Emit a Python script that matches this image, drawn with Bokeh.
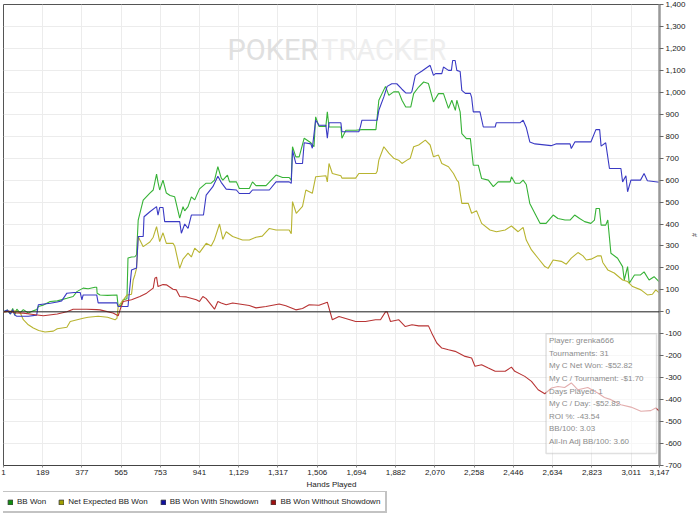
from bokeh.plotting import figure
from bokeh.layouts import column
from bokeh.models import (Range1d, FixedTicker, NumeralTickFormatter, Span, Legend,
                          LegendItem, BoxAnnotation, Label)
from bokeh.embed import file_html
from bokeh.resources import INLINE

# ---------------- data ----------------
x_ticks = [1, 189, 377, 565, 753, 941, 1129, 1317, 1506, 1694, 1882, 2070,
           2258, 2446, 2634, 2823, 3011, 3147]
y_ticks = list(range(-700, 1401, 100))

bb_won_h = [1, 20, 34, 45, 55, 65, 80, 96, 120, 144, 160, 168, 190, 225, 259, 305, 335, 353,
            383, 407, 440, 448, 450, 464, 500, 545, 551, 564, 575, 593, 598, 615, 631, 639,
            647, 671, 703, 719, 735, 742, 750, 766, 782, 800, 822, 846, 862, 870, 886, 902,
            918, 941, 973, 997, 1013, 1029, 1045, 1053, 1075, 1085, 1118, 1132, 1180, 1195,
            1212, 1260, 1308, 1339, 1371, 1381, 1387, 1403, 1419, 1443, 1475, 1490, 1498,
            1514, 1547, 1554, 1562, 1619, 1624, 1643, 1690, 1720, 1787, 1801, 1833, 1849,
            1872, 1896, 1912, 1930, 1954, 1968, 1992, 2016, 2039, 2063, 2087, 2111, 2135,
            2151, 2168, 2175, 2191, 2199, 2221, 2240, 2254, 2278, 2294, 2326, 2350, 2373,
            2431, 2437, 2455, 2478, 2493, 2508, 2525, 2549, 2574, 2603, 2637, 2660, 2694,
            2718, 2740, 2764, 2788, 2818, 2835, 2843, 2859, 2867, 2889, 2899, 2914, 2946,
            2970, 2978, 2994, 3002, 3027, 3056, 3073, 3097, 3121, 3147]
bb_won_v = [0, 8, -10, 15, -15, 12, -5, 10, -5, 5, 10, 24, 30, 47, 50, 62, 70, 92,
            108, 105, 112, 112, 85, 77, 75, 77, 24, 30, 55, 60, 245, 250, 251, 260,
            418, 509, 541, 555, 627, 590, 555, 600, 541, 530, 524, 427, 479, 460, 479, 524,
            510, 560, 586, 586, 600, 661, 610, 600, 623, 592, 592, 562, 562, 592,
            575, 575, 623, 612, 612, 600, 752, 706, 706, 791, 770, 752, 888,
            845, 845, 911, 842, 842, 791, 827, 827, 830, 830, 964, 1027, 986,
            1002, 1002, 964, 933, 933, 994, 1024, 1047, 1040, 956, 994, 994, 927,
            964, 918, 964, 911, 812, 789, 789, 668, 668, 607, 600, 570, 592,
            592, 615, 586, 586, 600, 580, 494, 449, 403, 403, 441, 425, 418,
            418, 441, 425, 411, 403, 418, 471, 471, 395, 395, 418, 267, 244,
            206, 145, 206, 130, 168, 168, 182, 145, 160, 135]

net_ev_h = [1, 60, 82, 96, 120, 144, 170, 200, 240, 259, 305, 321, 383, 407, 455, 500, 536,
            545, 551, 564, 593, 615, 623, 631, 639, 647, 655, 671, 703, 719, 735, 750, 766,
            782, 814, 822, 846, 862, 886, 902, 918, 941, 973, 997, 1013, 1037, 1053, 1069,
            1100, 1147, 1180, 1212, 1242, 1276, 1308, 1371, 1381, 1387, 1405, 1435, 1451,
            1482, 1498, 1547, 1554, 1562, 1578, 1619, 1624, 1690, 1705, 1787, 1793, 1801,
            1825, 1849, 1872, 1896, 1912, 1936, 1952, 1968, 1992, 2024, 2047, 2063, 2087,
            2103, 2135, 2159, 2175, 2183, 2199, 2230, 2246, 2270, 2294, 2334, 2365, 2407,
            2437, 2469, 2493, 2508, 2533, 2565, 2597, 2613, 2637, 2676, 2700, 2724, 2756,
            2780, 2796, 2819, 2851, 2867, 2875, 2899, 2930, 2970, 2994, 3018, 3058, 3089,
            3113, 3129, 3147]
net_ev_v = [0, 5, -5, -36, -59, -74, -85, -92, -88, -77, -70, -44, -29, -25, -20, -25, -36,
            -30, 24, 40, 76, 80, 145, 168, 198, 343, 327, 297, 318, 340, 388, 320, 360,
            312, 312, 300, 198, 240, 267, 250, 290, 270, 312, 300, 330, 400, 330, 365,
            343, 327, 327, 340, 345, 380, 373, 373, 356, 502, 449, 480, 555,
            540, 615, 620, 592, 676, 630, 620, 609, 609, 630, 630, 640, 691,
            752, 723, 700, 691, 676, 691, 700, 752, 760, 782, 760, 706, 714,
            676, 661, 630, 600, 592, 494, 494, 449, 460, 403, 373, 365, 373,
            391, 365, 385, 327, 282, 244, 206, 198, 236, 230, 217, 245, 270,
            255, 236, 240, 255, 255, 225, 191, 177, 145, 138, 115, 100, 77,
            80, 100, 85]

sd_h = [1, 20, 34, 45, 55, 65, 96, 120, 160, 168, 225, 259, 280, 305, 340, 369, 377, 383,
        448, 455, 545, 551, 598, 615, 639, 647, 671, 675, 703, 735, 742, 750, 766, 774, 846,
        854, 870, 886, 902, 960, 973, 1005, 1029, 1045, 1069, 1118, 1132, 1180, 1195, 1276,
        1308, 1371, 1381, 1387, 1403, 1435, 1443, 1475, 1482, 1498, 1514, 1547, 1554, 1562,
        1619, 1624, 1705, 1713, 1720, 1793, 1801, 1825, 1841, 1863, 1887, 1912, 1930, 1954,
        1960, 1976, 2008, 2047, 2063, 2073, 2103, 2111, 2135, 2149, 2155, 2167, 2175, 2191,
        2199, 2216, 2240, 2246, 2254, 2286, 2302, 2359, 2364, 2478, 2493, 2508, 2525, 2550,
        2627, 2650, 2718, 2724, 2741, 2818, 2842, 2860, 2867, 2889, 2907, 2962, 2970, 2986,
        2994, 3010, 3027, 3056, 3073, 3089, 3147]
sd_v = [0, 8, -10, 10, -15, -20, -20, -20, -15, 32, 39, 45, 50, 85, 88, 88, 55, 77,
        77, 41, 41, 24, 24, 191, 200, 343, 343, 433, 456, 479, 440, 475, 475, 411, 411,
        358, 400, 380, 441, 441, 532, 570, 618, 590, 559, 555, 539, 539, 555, 555,
        592, 592, 585, 736, 676, 676, 770, 765, 745, 873, 850, 850, 791, 861,
        861, 820, 820, 845, 873, 873, 918, 979, 1027, 1039, 1039, 1014, 997, 997,
        1005, 1077, 1097, 1123, 1077, 1085, 1085, 1115, 1100, 1100, 1145, 1145, 1100, 1095,
        1009, 995, 995, 977, 911, 911, 842, 842, 861, 861, 873, 840, 774, 765,
        757, 765, 765, 744, 774, 774, 830, 830, 755, 770, 653, 653, 592, 620,
        547, 600, 600, 600, 630, 597, 590]

nsd_h = [1, 30, 60, 96, 144, 192, 259, 305, 335, 400, 448, 464, 526, 551, 564, 575, 615,
         655, 687, 719, 727, 735, 742, 766, 782, 814, 830, 846, 878, 926, 941, 957, 973,
         1013, 1029, 1045, 1069, 1100, 1180, 1212, 1260, 1323, 1355, 1403, 1435, 1467,
         1514, 1554, 1578, 1610, 1642, 1690, 1737, 1785, 1809, 1833, 1841, 1857, 1896,
         1928, 1960, 1992, 2039, 2055, 2079, 2103, 2135, 2167, 2215, 2246, 2262, 2294,
         2326, 2359, 2407, 2437, 2453, 2501, 2533, 2565, 2597, 2629, 2660, 2692, 2724,
         2756, 2803, 2851, 2883, 2914, 2962, 3010, 3058, 3105, 3129, 3147]
nsd_v = [0, 3, -5, -6, -12, -18, -10, 0, 12, 12, 10, 9, -5, -18, 20, 47, 55,
         70, 85, 108, 153, 158, 115, 124, 123, 103, 100, 70, 68, 55, 47, 70, 60,
         12, 47, 40, 32, 40, 29, 18, 24, 36, 28, 9, 15, 32,
         30, 44, -36, -21, -30, -44, -44, -36, -36, 0, 0, -44, -36,
         -67, -59, -64, -64, -97, -142, -165, -173, -180, -203, -210, -248, -241,
         -256, -271, -271, -252, -271, -294, -317, -355, -373, -347, -340, -345, -324,
         -355, -345, -370, -390, -400, -423, -434, -453, -450, -438, -453]

series_names = ["BB Won", "Net Expected BB Won", "BB Won With Showdown",
                "BB Won Without Showdown"]
stats_lines = ["Player: grenka666", "Tournaments: 31", "My C Net Won: -$52.82",
               "My C / Tournament: -$1.70", "Days Played: 1", "My C / Day: -$52.82",
               "ROI %: -43.54", "BB/100: 3.03", "All-In Adj BB/100: 3.60"]

# ---------------- main figure ----------------
FONT = "Liberation Sans"
p = figure(width=700, height=491, x_range=Range1d(1, 3147), y_range=Range1d(-700, 1400),
           y_axis_location="right", output_backend="svg", toolbar_location=None,
           min_border_left=3, min_border_top=4, min_border_right=38, min_border_bottom=25,
           background_fill_color="white", border_fill_color="white")
p.outline_line_color = "#555555"
p.outline_line_width = 1

xa = p.xaxis[0]
xa.ticker = FixedTicker(ticks=x_ticks)
xa.formatter = NumeralTickFormatter(format="0,0")
xa.axis_label = "Hands Played"
xa.axis_label_text_font_size = "8px"
xa.axis_label_text_font_style = "normal"
xa.axis_label_text_font = FONT
xa.axis_label_text_color = "#222222"
xa.axis_label_standoff = 2
xa.major_label_text_font_size = "8px"
xa.major_label_text_font = FONT
xa.major_label_text_color = "#222222"
xa.major_label_standoff = 2
xa.axis_line_color = "#444444"
xa.major_tick_line_color = "#888888"
xa.major_tick_out = 2
xa.major_tick_in = 0
xa.minor_tick_line_color = None

ya = p.yaxis[0]
ya.ticker = FixedTicker(ticks=y_ticks)
ya.formatter = NumeralTickFormatter(format="0,0")
ya.axis_label = "#"
ya.axis_label_text_font_size = "7px"
ya.axis_label_text_font_style = "normal"
ya.axis_label_text_font = FONT
ya.axis_label_standoff = 2
ya.major_label_text_font_size = "8px"
ya.major_label_text_font = FONT
ya.major_label_text_color = "#222222"
ya.major_label_standoff = 2
ya.axis_line_color = "#999999"
ya.axis_line_width = 2.5
ya.major_tick_line_color = "#666666"
ya.major_tick_out = 4
ya.major_tick_in = 0
ya.minor_tick_line_color = None

p.xgrid.grid_line_color = "#ececec"
p.ygrid.grid_line_color = "#ececec"

# watermark
WM_FONT = "Roboto"
p.add_layout(Label(x=1075, y=1191, text="POKER", text_font=WM_FONT, text_font_size="29px",
                   text_color="#e0e0e0", text_baseline="alphabetic", level="underlay"))
p.add_layout(Label(x=1524, y=1191, text="TRACKER", text_font=WM_FONT, text_font_size="29px",
                   text_color="#eeeeee", text_baseline="alphabetic", level="underlay"))

# zero line
p.add_layout(Span(location=0, dimension="width", line_color="#222222", line_width=1))

colors = ["#36b236", "#b8b430", "#3a3ac4", "#b83434"]
dark = ["#109010", "#a0a000", "#1010a0", "#a01010"]
data = [(bb_won_h, bb_won_v), (net_ev_h, net_ev_v), (sd_h, sd_v), (nsd_h, nsd_v)]
for (h, v), c in zip(data, colors):
    p.line(h, v, line_color=c, line_width=1.1)

# stats box
p.add_layout(BoxAnnotation(left=2603, right=3133, top=-100, bottom=-645,
                           fill_color="white", fill_alpha=0.6,
                           line_color="#999999", line_width=1.5))
for i, s in enumerate(stats_lines):
    p.add_layout(Label(x=2617, y=-132 - 57.3 * i, text=s, text_font=FONT,
                       text_font_size="8px", text_color="#8c8c8c", text_baseline="middle"))

# ---------------- legend strip ----------------
lg = figure(width=700, height=28, x_range=Range1d(0, 1), y_range=Range1d(0, 1),
            output_backend="svg", toolbar_location=None, min_border=0,
            background_fill_color="white", border_fill_color="white")
lg.outline_line_color = None
lg.axis.visible = False
lg.grid.visible = False
items = []
for name, d in zip(series_names, dark):
    # a quad placed outside the visible range so only the legend swatch shows
    r = lg.quad(left=[5], right=[6], bottom=[5], top=[6], fill_color=d,
                line_color="#333333", line_width=0.8)
    items.append(LegendItem(label=name, renderers=[r]))
legend = Legend(items=items, orientation="horizontal", location=(-3, 6),
                label_text_font=FONT, label_text_font_size="8px", label_text_color="#222222",
                glyph_width=6, glyph_height=6, label_standoff=4, spacing=12, padding=5,
                margin=0, border_line_color="#888888", border_line_width=2,
                label_height=8, background_fill_color="white")
lg.add_layout(legend)

layout = column(p, lg, spacing=0)
open("out.html", "w").write(file_html(layout, INLINE))
